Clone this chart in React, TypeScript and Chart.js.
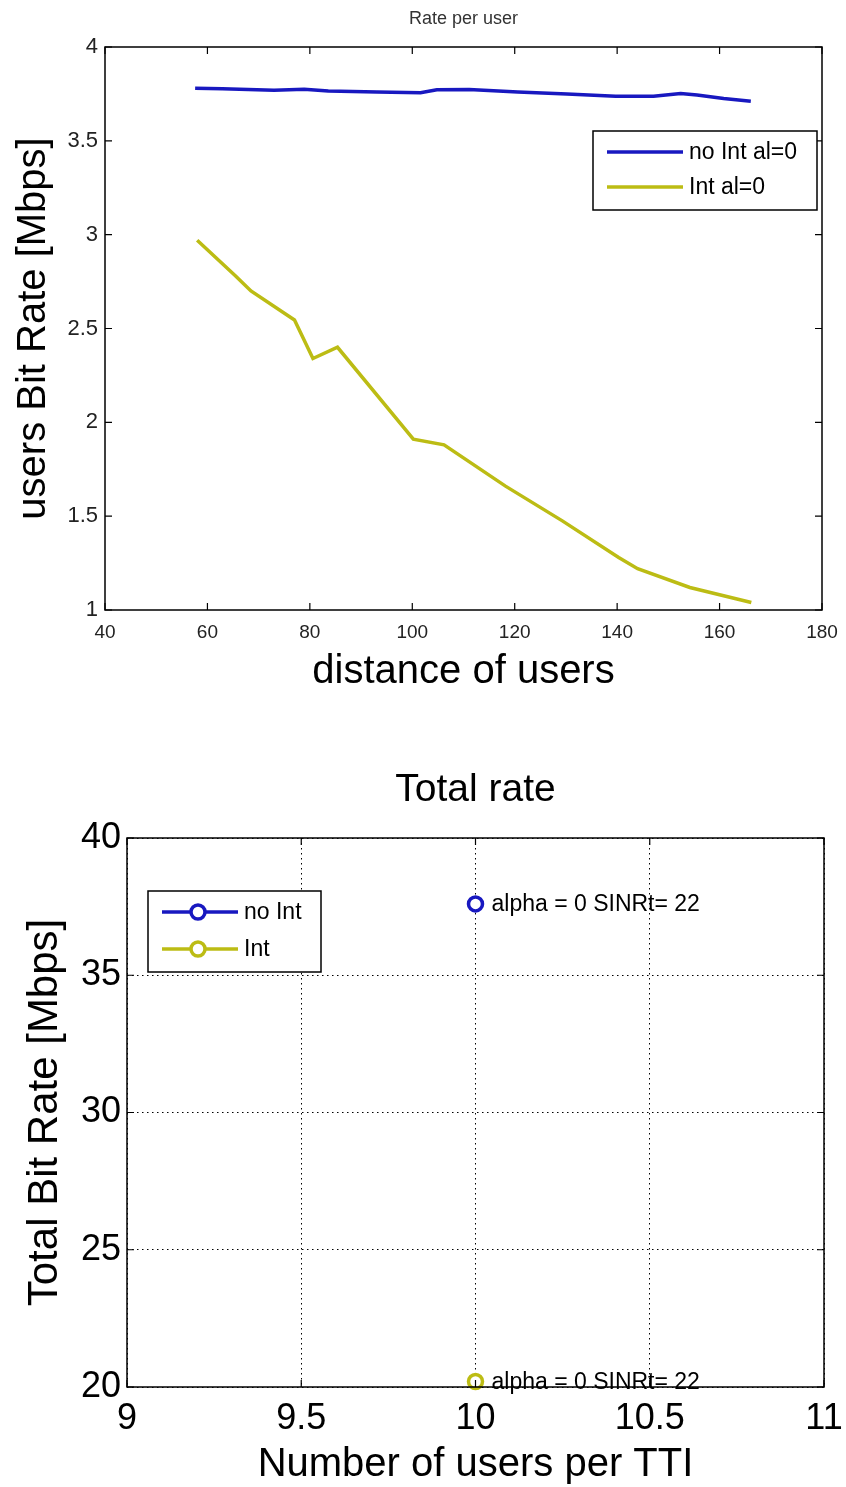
import React, { useEffect, useRef } from 'react';
import { Chart, registerables } from 'chart.js';

Chart.register(...registerables);

const FONT = "'Liberation Sans', Arial, Helvetica, sans-serif";
const BLUE = '#1818c0';
const YELLOW = '#bcbc14';

// ---- Top chart: Rate per user ----
const noIntDistance = [57.6, 62.9, 73, 78.9, 83.6, 93.1, 101.6, 104.8, 111.1, 120.6, 130.2, 139.7, 147.1, 152.4, 155.6, 160.8, 166.1];
const noIntRate = [3.78, 3.778, 3.77, 3.775, 3.765, 3.76, 3.756, 3.772, 3.773, 3.76, 3.75, 3.737, 3.737, 3.752, 3.744, 3.726, 3.711];
const intDistance = [58, 65.5, 68.5, 77, 80.6, 85.4, 100.2, 106.2, 118.2, 129.3, 140.3, 144, 154.2, 166.2];
const intRate = [2.97, 2.78, 2.7, 2.545, 2.34, 2.4, 1.91, 1.88, 1.66, 1.475, 1.28, 1.22, 1.12, 1.04];
const topXTicks = [40, 60, 80, 100, 120, 140, 160, 180];
const topYTicks = [1, 1.5, 2, 2.5, 3, 3.5, 4];
const topLabels = ['no Int al=0', 'Int al=0'];

// ---- Bottom chart: Total rate ----
const usersPerTTI = [10];
const totalNoInt = [37.6];
const totalInt = [20.2];
const bottomLabels = ['no Int', 'Int'];
const annotationText = 'alpha = 0 SINRt= 22';
const bottomXTicks = [9, 9.5, 10, 10.5, 11];
const bottomYTicks = [20, 25, 30, 35, 40];

const TOP_H = 710;
const BOTTOM_H = 777;

function framePlugin(tickLen: number) {
  return {
    id: 'frame',
    afterDatasetsDraw(chart: any) {
      const { ctx, chartArea: a, scales } = chart;
      ctx.save();
      ctx.strokeStyle = '#000';
      ctx.lineWidth = 1.5;
      ctx.setLineDash([]);
      ctx.strokeRect(a.left, a.top, a.right - a.left, a.bottom - a.top);
      ctx.lineWidth = 1.2;
      ctx.beginPath();
      scales.x.ticks.forEach((t: any) => {
        const px = scales.x.getPixelForValue(t.value);
        ctx.moveTo(px, a.bottom);
        ctx.lineTo(px, a.bottom - tickLen);
        ctx.moveTo(px, a.top);
        ctx.lineTo(px, a.top + tickLen);
      });
      scales.y.ticks.forEach((t: any) => {
        const py = scales.y.getPixelForValue(t.value);
        ctx.moveTo(a.left, py);
        ctx.lineTo(a.left + tickLen, py);
        ctx.moveTo(a.right, py);
        ctx.lineTo(a.right - tickLen, py);
      });
      ctx.stroke();
      ctx.restore();
    },
  };
}

function legendPlugin(opts: { dx: number; dy: number; fromRight: boolean; w: number; h: number; rows: number[]; marker: boolean; fontSize: number }) {
  return {
    id: 'customLegend',
    afterDraw(chart: any) {
      const { ctx, chartArea: a } = chart;
      const x0 = opts.fromRight ? a.right - opts.dx - opts.w : a.left + opts.dx;
      const y0 = a.top + opts.dy;
      ctx.save();
      ctx.fillStyle = '#fff';
      ctx.fillRect(x0, y0, opts.w, opts.h);
      ctx.strokeStyle = '#000';
      ctx.lineWidth = 1.5;
      ctx.strokeRect(x0, y0, opts.w, opts.h);
      chart.data.datasets.forEach((ds: any, i: number) => {
        const y = y0 + opts.rows[i];
        ctx.strokeStyle = ds.borderColor;
        ctx.lineWidth = 3.5;
        ctx.beginPath();
        ctx.moveTo(x0 + 14, y);
        ctx.lineTo(x0 + 90, y);
        ctx.stroke();
        if (opts.marker) {
          ctx.beginPath();
          ctx.fillStyle = '#fff';
          ctx.arc(x0 + 50, y, 7, 0, Math.PI * 2);
          ctx.fill();
          ctx.lineWidth = 3.5;
          ctx.stroke();
        }
        ctx.fillStyle = '#000';
        ctx.font = `${opts.fontSize}px ${FONT}`;
        ctx.textBaseline = 'middle';
        ctx.textAlign = 'left';
        ctx.fillText(ds.label, x0 + 96, y + 1);
      });
      ctx.restore();
    },
  };
}

const annotationPlugin = {
  id: 'pointAnnotations',
  afterDatasetsDraw(chart: any) {
    const { ctx, scales } = chart;
    ctx.save();
    ctx.fillStyle = '#000';
    ctx.font = `23px ${FONT}`;
    ctx.textBaseline = 'middle';
    ctx.textAlign = 'left';
    chart.data.datasets.forEach((ds: any) => {
      ds.data.forEach((p: any) => {
        const px = scales.x.getPixelForValue(p.x);
        const py = scales.y.getPixelForValue(p.y);
        ctx.fillText(annotationText, px + 16, py + 1);
      });
    });
    ctx.restore();
  },
};

const fitX = (h: number) => (s: any) => {
  s.height = h;
  s.paddingLeft = 0;
  s.paddingRight = 0;
};
const fitY = (w: number) => (s: any) => {
  s.width = w;
  s.paddingTop = 0;
  s.paddingBottom = 0;
};

function TopChart() {
  const ref = useRef<HTMLCanvasElement | null>(null);
  useEffect(() => {
    if (!ref.current) return;
    const chart = new Chart(ref.current, {
      type: 'line',
      data: {
        datasets: [
          {
            label: topLabels[0],
            data: noIntDistance.map((x, i) => ({ x, y: noIntRate[i] })),
            borderColor: BLUE,
            borderWidth: 3.5,
            pointRadius: 0,
            tension: 0,
          },
          {
            label: topLabels[1],
            data: intDistance.map((x, i) => ({ x, y: intRate[i] })),
            borderColor: YELLOW,
            borderWidth: 3.5,
            pointRadius: 0,
            tension: 0,
          },
        ],
      },
      options: {
        responsive: false,
        animation: false,
        devicePixelRatio: 1,
        layout: { padding: { left: 0, right: 24, top: 0, bottom: 0 } },
        plugins: {
          legend: { display: false },
          tooltip: { enabled: false },
          title: {
            display: true,
            fullSize: false,
            text: 'Rate per user',
            color: '#333',
            font: { family: FONT, size: 18, weight: 'normal' },
            padding: { top: 8, bottom: 17.4 },
          },
        },
        scales: {
          x: {
            type: 'linear',
            min: 40,
            max: 180,
            afterBuildTicks: (s: any) => {
              s.ticks = topXTicks.map((value) => ({ value }));
            },
            afterFit: fitX(100),
            grid: { display: false, drawTicks: false },
            border: { display: false },
            ticks: {
              font: { family: FONT, size: 19 },
              color: '#222',
              padding: 11,
              maxRotation: 0,
              autoSkip: false,
              callback: (v: any) => String(v),
            },
            title: {
              display: true,
              text: 'distance of users',
              color: '#000',
              font: { family: FONT, size: 40 },
              padding: { top: 0, bottom: 14 },
            },
          },
          y: {
            type: 'linear',
            min: 1,
            max: 4,
            afterBuildTicks: (s: any) => {
              s.ticks = topYTicks.map((value) => ({ value }));
            },
            afterFit: fitY(105),
            grid: { display: false, drawTicks: false },
            border: { display: false },
            ticks: {
              font: { family: FONT, size: 22 },
              color: '#222',
              padding: 7,
              autoSkip: false,
              callback: (v: any) => String(v),
            },
            title: {
              display: true,
              text: 'users Bit Rate [Mbps]',
              color: '#000',
              font: { family: FONT, size: 40 },
              padding: { top: 10, bottom: 0 },
            },
          },
        },
      } as any,
      plugins: [
        framePlugin(7),
        legendPlugin({ dx: 5, dy: 84, fromRight: true, w: 224, h: 79, rows: [21, 56], marker: false, fontSize: 23 }),
      ],
    });
    return () => chart.destroy();
  }, []);
  return (
    <canvas
      ref={ref}
      width={846}
      height={TOP_H}
      style={{ position: 'absolute', left: 0, top: 0, width: 846, height: TOP_H, display: 'block' }}
    />
  );
}

function BottomChart() {
  const ref = useRef<HTMLCanvasElement | null>(null);
  useEffect(() => {
    if (!ref.current) return;
    const chart = new Chart(ref.current, {
      type: 'line',
      data: {
        datasets: [
          {
            label: bottomLabels[0],
            data: usersPerTTI.map((x, i) => ({ x, y: totalNoInt[i] })),
            borderColor: BLUE,
            backgroundColor: '#fff',
            borderWidth: 3.5,
            pointRadius: 7,
            pointBorderWidth: 3.5,
            pointBackgroundColor: '#fff',
            pointBorderColor: BLUE,
            clip: false,
          },
          {
            label: bottomLabels[1],
            data: usersPerTTI.map((x, i) => ({ x, y: totalInt[i] })),
            borderColor: YELLOW,
            backgroundColor: '#fff',
            borderWidth: 3.5,
            pointRadius: 7,
            pointBorderWidth: 3.5,
            pointBackgroundColor: '#fff',
            pointBorderColor: YELLOW,
            clip: false,
          },
        ],
      },
      options: {
        responsive: false,
        animation: false,
        devicePixelRatio: 1,
        layout: { padding: { left: 0, right: 22, top: 0, bottom: 0 } },
        plugins: {
          legend: { display: false },
          tooltip: { enabled: false },
          title: {
            display: true,
            fullSize: false,
            text: 'Total rate',
            color: '#000',
            font: { family: FONT, size: 39, weight: 'normal' },
            padding: { top: 56.6, bottom: 24.6 },
          },
        },
        scales: {
          x: {
            type: 'linear',
            min: 9,
            max: 11,
            afterBuildTicks: (s: any) => {
              s.ticks = bottomXTicks.map((value) => ({ value }));
            },
            afterFit: fitX(100),
            grid: { display: true, drawTicks: false, color: '#000', lineWidth: 1 },
            border: { display: false, dash: [1.5, 3.5] },
            ticks: {
              font: { family: FONT, size: 36 },
              color: '#000',
              padding: 10,
              maxRotation: 0,
              autoSkip: false,
              callback: (v: any) => String(v),
            },
            title: {
              display: true,
              text: 'Number of users per TTI',
              color: '#000',
              font: { family: FONT, size: 40, lineHeight: 1.1 },
              padding: { top: 0, bottom: 0 },
            },
          },
          y: {
            type: 'linear',
            min: 20,
            max: 40,
            afterBuildTicks: (s: any) => {
              s.ticks = bottomYTicks.map((value) => ({ value }));
            },
            afterFit: fitY(127),
            grid: { display: true, drawTicks: false, color: '#000', lineWidth: 1 },
            border: { display: false, dash: [1.5, 3.5] },
            ticks: {
              font: { family: FONT, size: 36 },
              color: '#000',
              padding: 6,
              autoSkip: false,
              callback: (v: any) => String(v),
            },
            title: {
              display: true,
              text: 'Total Bit Rate [Mbps]',
              color: '#000',
              font: { family: FONT, size: 42 },
              padding: { top: 20, bottom: 0 },
            },
          },
        },
      } as any,
      plugins: [
        framePlugin(7),
        annotationPlugin,
        legendPlugin({ dx: 21, dy: 53, fromRight: false, w: 173, h: 81, rows: [21, 58], marker: true, fontSize: 23 }),
      ],
    });
    return () => chart.destroy();
  }, []);
  return (
    <canvas
      ref={ref}
      width={846}
      height={BOTTOM_H}
      style={{ position: 'absolute', left: 0, top: TOP_H, width: 846, height: BOTTOM_H, display: 'block' }}
    />
  );
}

export default function App() {
  return (
    <div style={{ position: 'absolute', left: 0, top: 0, width: 846, height: TOP_H + BOTTOM_H, background: '#fff', overflow: 'hidden' }}>
      <TopChart />
      <BottomChart />
    </div>
  );
}
